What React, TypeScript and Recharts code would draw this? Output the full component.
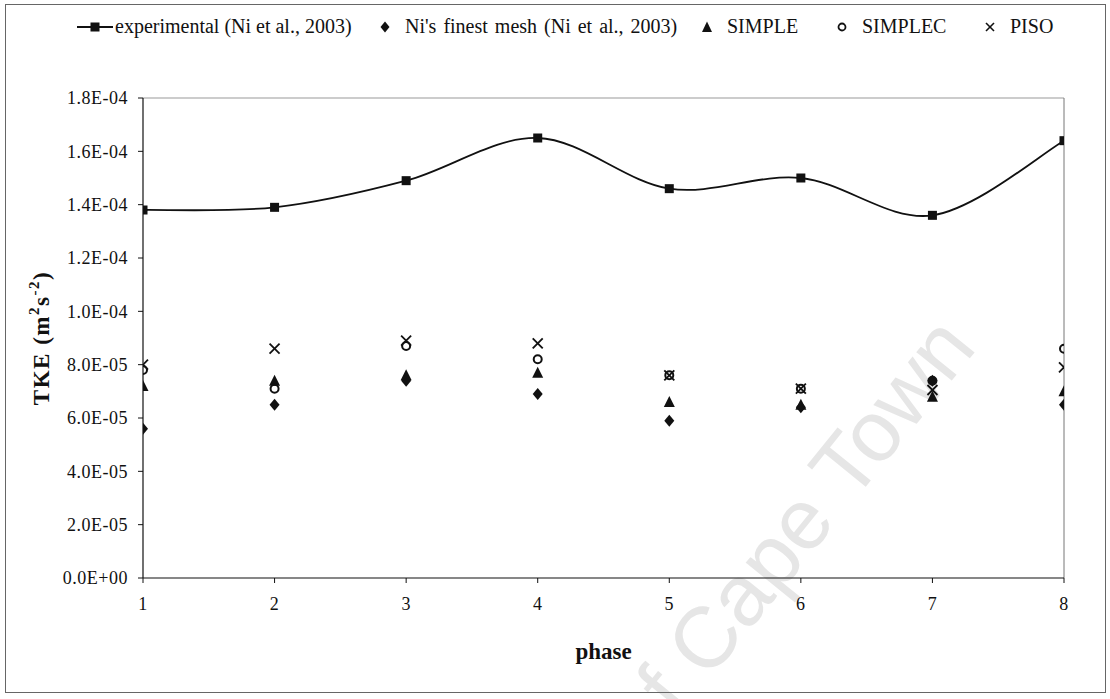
import React from 'react';
import {
  ComposedChart,
  Line,
  Scatter,
  XAxis,
  YAxis,
  ReferenceLine,
  Label,
} from 'recharts';

// phase positions and TKE values (m^2 s^-2)
const phases = [1, 2, 3, 4, 5, 6, 7, 8];
const experimental = [1.38e-4, 1.39e-4, 1.49e-4, 1.65e-4, 1.46e-4, 1.5e-4, 1.36e-4, 1.64e-4];
const niFinestMesh = [5.6e-5, 6.5e-5, 7.4e-5, 6.9e-5, 5.9e-5, 6.4e-5, 7.4e-5, 6.5e-5];
const simple = [7.2e-5, 7.4e-5, 7.6e-5, 7.7e-5, 6.6e-5, 6.5e-5, 6.8e-5, 7.0e-5];
const simplec = [7.8e-5, 7.1e-5, 8.7e-5, 8.2e-5, 7.6e-5, 7.1e-5, 7.4e-5, 8.6e-5];
const piso = [8.0e-5, 8.6e-5, 8.9e-5, 8.8e-5, 7.6e-5, 7.1e-5, 7.05e-5, 7.9e-5];

const yTicks = [0, 2e-5, 4e-5, 6e-5, 8e-5, 1e-4, 1.2e-4, 1.4e-4, 1.6e-4, 1.8e-4];

const legendLabels = [
  'experimental (Ni et al., 2003)',
  "Ni's finest mesh (Ni et al., 2003)",
  'SIMPLE',
  'SIMPLEC',
  'PISO',
];

const toPoints = (values: number[]) => phases.map((x, i) => ({ x, y: values[i] }));

const FONT = "'Times New Roman', 'Liberation Serif', serif";

// Excel-style E notation: 1.8E-04, 0.0E+00
const sci = (v: number) => {
  if (v === 0) return '0.0E+00';
  const [m, e] = v.toExponential(1).split('e');
  const n = parseInt(e, 10);
  const sign = n < 0 ? '-' : '+';
  return `${m}E${sign}${String(Math.abs(n)).padStart(2, '0')}`;
};

// Catmull-Rom style smoothing, similar to a spreadsheet "smoothed line"
const smoothCurve = (context: any) => {
  let pts: number[][] = [];
  return {
    areaStart() {},
    areaEnd() {},
    lineStart() {
      pts = [];
    },
    lineEnd() {
      if (!pts.length) return;
      context.moveTo(pts[0][0], pts[0][1]);
      for (let i = 0; i < pts.length - 1; i++) {
        const p0 = pts[i - 1] || pts[i];
        const p1 = pts[i];
        const p2 = pts[i + 1];
        const p3 = pts[i + 2] || p2;
        context.bezierCurveTo(
          p1[0] + (p2[0] - p0[0]) / 6,
          p1[1] + (p2[1] - p0[1]) / 6,
          p2[0] - (p3[0] - p1[0]) / 6,
          p2[1] - (p3[1] - p1[1]) / 6,
          p2[0],
          p2[1]
        );
      }
    },
    point(x: number, y: number) {
      pts.push([+x, +y]);
    },
  };
};

const SquareDot = (props: any) => {
  const { cx, cy } = props;
  if (cx == null || cy == null) return null;
  return <rect x={cx - 4.5} y={cy - 4.5} width={9} height={9} fill="#111" />;
};

const DiamondShape = (props: any) => {
  const { cx, cy } = props;
  return (
    <polygon
      points={`${cx},${cy - 6} ${cx + 5},${cy} ${cx},${cy + 6} ${cx - 5},${cy}`}
      fill="#111"
    />
  );
};

const TriangleShape = (props: any) => {
  const { cx, cy } = props;
  return (
    <polygon
      points={`${cx},${cy - 6} ${cx + 5.5},${cy + 5} ${cx - 5.5},${cy + 5}`}
      fill="#111"
    />
  );
};

const CircleShape = (props: any) => {
  const { cx, cy } = props;
  return <circle cx={cx} cy={cy} r={4} fill="none" stroke="#111" strokeWidth={2} />;
};

const CrossShape = (props: any) => {
  const { cx, cy } = props;
  const d = 5;
  return (
    <g stroke="#111" strokeWidth={1.8}>
      <line x1={cx - d} y1={cy - d} x2={cx + d} y2={cy + d} />
      <line x1={cx - d} y1={cy + d} x2={cx + d} y2={cy - d} />
    </g>
  );
};

const legendIcons = [
  <svg width={36} height={14} key="exp">
    <line x1={0} y1={7} x2={36} y2={7} stroke="#111" strokeWidth={1.8} />
    <rect x={13.5} y={2.5} width={9} height={9} fill="#111" />
  </svg>,
  <svg width={12} height={14} key="ni">
    <polygon points="6,1.5 10.5,7 6,12.5 1.5,7" fill="#111" />
  </svg>,
  <svg width={12} height={14} key="simple">
    <polygon points="6,1.5 11,12 1,12" fill="#111" />
  </svg>,
  <svg width={12} height={14} key="simplec">
    <circle cx={6} cy={7} r={3.5} fill="none" stroke="#111" strokeWidth={1.8} />
  </svg>,
  <svg width={12} height={14} key="piso">
    <g stroke="#111" strokeWidth={1.6}>
      <line x1={2} y1={3} x2={10} y2={11} />
      <line x1={2} y1={11} x2={10} y2={3} />
    </g>
  </svg>,
];

// left edge of each legend entry (icon), and gap from icon to its text
const legendLeft = [77, 379, 701, 836, 984];
const legendGap = [2, 14, 14, 14, 14];

const YLabel = () => (
  <text
    transform="translate(49, 338) rotate(-90)"
    textAnchor="middle"
    fontFamily={FONT}
    fontWeight="bold"
    fontSize={23}
    fill="#111"
    letterSpacing={1.5}
  >
    TKE (m
    <tspan fontSize={15} dy={-10}>2</tspan>
    <tspan dy={10}>s</tspan>
    <tspan fontSize={15} dy={-10}>-2</tspan>
    <tspan dy={10}>)</tspan>
  </text>
);

export default function App() {
  const tickStyle = { fontFamily: FONT, fontSize: 18, fill: '#111', letterSpacing: 0.5 };
  return (
    <div
      style={{
        position: 'absolute',
        left: 0,
        top: 0,
        width: 1110,
        height: 699,
        background: '#fff',
        overflow: 'hidden',
      }}
    >
      <svg
        width={1110}
        height={699}
        style={{ position: 'absolute', left: 0, top: 0 }}
      >
        <text
          transform="translate(978, 348) rotate(-51)"
          textAnchor="end"
          fontFamily="'Liberation Sans', Arial, sans-serif"
          fontSize={86}
          fill="#e6e6e6"
        >
          University of Cape Town
        </text>
      </svg>
      <div
        style={{
          position: 'absolute',
          left: 5,
          top: 4,
          width: 1099,
          height: 687,
          border: '1px solid #666',
        }}
      />
      {legendLabels.map((label, i) => (
        <div
          key={label}
          style={{
            position: 'absolute',
            left: legendLeft[i],
            top: 15,
            display: 'flex',
            alignItems: 'center',
            fontFamily: FONT,
            fontSize: 20,
            color: '#111',
            whiteSpace: 'nowrap',
            wordSpacing: i === 1 ? 2 : 0,
          }}
        >
          <span style={{ marginRight: legendGap[i], display: 'flex' }}>
            {legendIcons[i]}
          </span>
          <span>{label}</span>
        </div>
      ))}
      <div style={{ position: 'absolute', left: 0, top: 0 }}>
        <ComposedChart
          width={1110}
          height={699}
          margin={{ top: 98, right: 46, bottom: 0, left: 0 }}
        >
          <XAxis
            type="number"
            dataKey="x"
            domain={[1, 8]}
            ticks={phases}
            allowDataOverflow
            height={121}
            tick={tickStyle}
            tickSize={5}
            tickMargin={14}
            axisLine={{ stroke: '#111', strokeWidth: 1.2 }}
            tickLine={{ stroke: '#111' }}
          >
            <Label
              value="phase"
              position="insideBottom"
              offset={40}
              style={{ fontFamily: FONT, fontWeight: 'bold', fontSize: 23, fill: '#111' }}
            />
          </XAxis>
          <YAxis
            type="number"
            domain={[0, 1.8e-4]}
            ticks={yTicks}
            width={143}
            tick={tickStyle}
            tickFormatter={sci}
            tickSize={5}
            tickMargin={10}
            axisLine={{ stroke: '#111', strokeWidth: 1.2 }}
            tickLine={{ stroke: '#111' }}
            label={<YLabel />}
          />
          <ReferenceLine y={1.8e-4} stroke="#999" strokeWidth={1} />
          <ReferenceLine x={8} stroke="#777" strokeWidth={1} />
          <Line
            data={toPoints(experimental)}
            dataKey="y"
            type={smoothCurve as any}
            stroke="#111"
            strokeWidth={1.8}
            dot={<SquareDot />}
            activeDot={false}
            isAnimationActive={false}
          />
          <Scatter
            data={toPoints(niFinestMesh)}
            dataKey="y"
            shape={<DiamondShape />}
            isAnimationActive={false}
          />
          <Scatter
            data={toPoints(simple)}
            dataKey="y"
            shape={<TriangleShape />}
            isAnimationActive={false}
          />
          <Scatter
            data={toPoints(simplec)}
            dataKey="y"
            shape={<CircleShape />}
            isAnimationActive={false}
          />
          <Scatter
            data={toPoints(piso)}
            dataKey="y"
            shape={<CrossShape />}
            isAnimationActive={false}
          />
        </ComposedChart>
      </div>
    </div>
  );
}
